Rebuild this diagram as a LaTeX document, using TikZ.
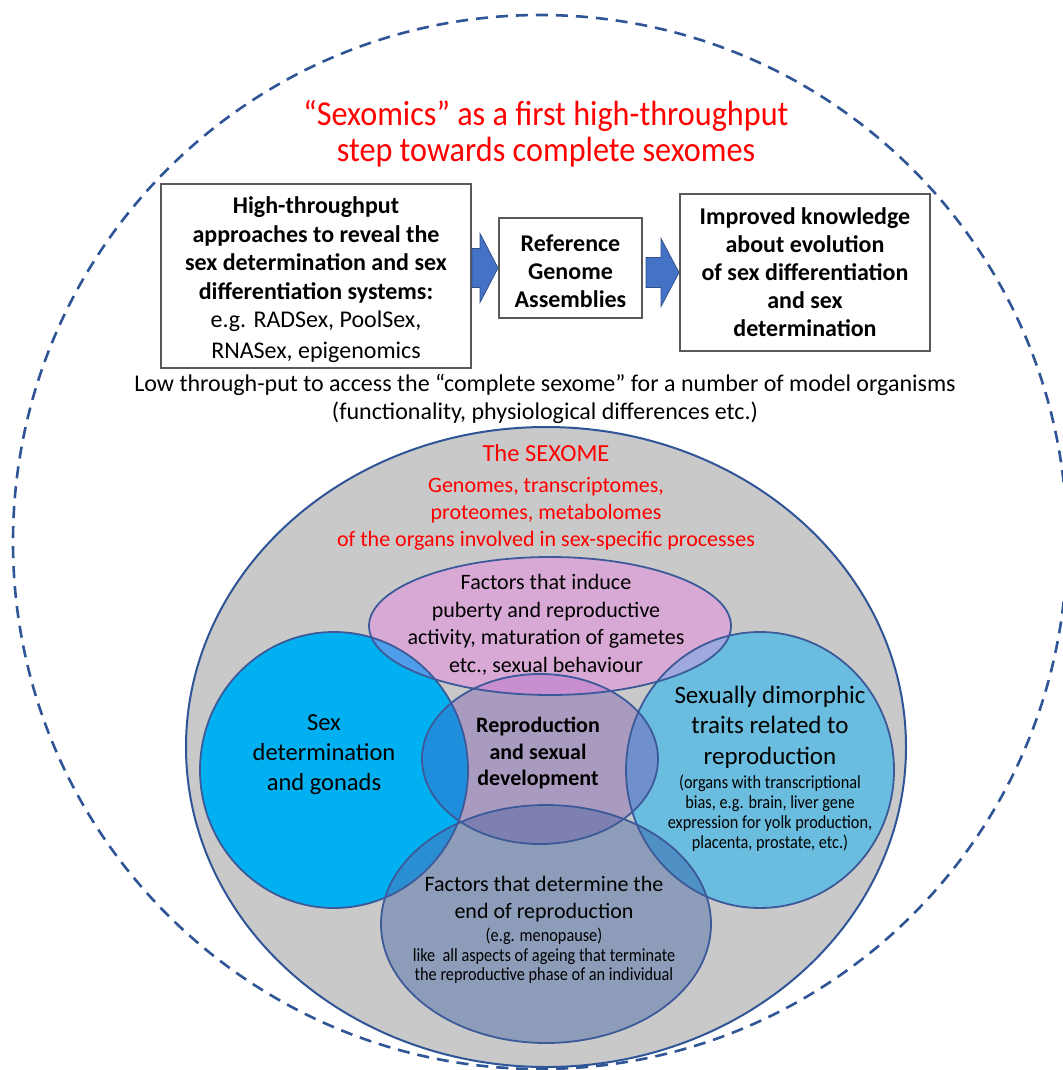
\documentclass[tikz,border=0pt]{standalone}
\usepackage{fontspec}
\setmainfont{Carlito}
\newfontfamily\condensed[FakeStretch=0.88]{Carlito}
\newfontfamily\titlefont[FakeStretch=0.92]{Carlito}
\usetikzlibrary{calc}
\definecolor{dashblue}{HTML}{2F5597}
\definecolor{vennblue}{HTML}{3C5A9A}
\definecolor{boxgray}{HTML}{595959}
\definecolor{arrowfill}{HTML}{4472C4}
\definecolor{arrowline}{HTML}{2F528F}
\definecolor{bggray}{HTML}{C9C9C9}
\definecolor{titlered}{HTML}{FF0000}
\definecolor{cL}{HTML}{00B0F0}
\definecolor{cR}{HTML}{6ABDDE}
\definecolor{cP}{HTML}{D9A9D6}
\definecolor{cC}{HTML}{A99BBF}
\definecolor{cB}{HTML}{8D9DB9}
\definecolor{cLP}{HTML}{4E9EEB}
\definecolor{cRP}{HTML}{9FA9E0}
\definecolor{cPC}{HTML}{C78ED0}
\definecolor{cLC}{HTML}{1F8FDD}
\definecolor{cRC}{HTML}{6F90CC}
\definecolor{cCB}{HTML}{7F80B2}
\definecolor{cLB}{HTML}{2A8ED2}
\definecolor{cRB}{HTML}{4F90C5}
\def\Lsh{(334,770) ellipse [x radius=134pt, y radius=138pt]}
\def\Rsh{(760,770) ellipse [x radius=134pt, y radius=138pt]}
\def\Psh{(550,626) ellipse [x radius=181pt, y radius=69pt]}
\def\Csh{(540,759) ellipse [x radius=118pt, y radius=85pt]}
\def\Bsh{(546,924) ellipse [x radius=165pt, y radius=119pt]}
\begin{document}
\begin{tikzpicture}[x=1pt,y=-1pt,
  box/.style={draw=boxgray, line width=2pt, fill=white, align=center, inner sep=0pt,
    font=\bfseries\fontsize{24}{28}\selectfont},
  plain/.style={align=center, inner sep=0pt, font=\fontsize{24}{28}\selectfont},
  redtxt/.style={align=center, inner sep=0pt, text=titlered},
  vline/.style={draw=vennblue, line width=1.8pt},
  barrow/.style n args={3}{to path={let \p1=(\tikztostart), \p2=(\tikztotarget) in
    (\x1,\y1+#1) -- (\x2-#3,\y1+#1) -- (\x2-#3,\y2+#2) -- (\x2,\y2) -- (\x2-#3,\y2-#2)
    -- (\x2-#3,\y1-#1) -- (\x1,\y1-#1) -- cycle}},
  blockarrow/.style={fill=arrowfill, draw=arrowline, line width=0.8pt, line join=miter}
]
\useasboundingbox (0,0) rectangle (1062,1070);
\fill[white] (0,0) rectangle (1062,1070);
% outer dashed circle
\draw[dashblue, line width=2.6pt, dash pattern=on 12pt off 8pt] (540,542) circle [radius=527pt];
% title
\node[redtxt, font=\titlefont\fontsize{35}{36}\selectfont] (title) at (546,134)
  {“Sexomics” as a first high-throughput\\step towards complete sexomes};
% boxes
\node[box, minimum width=310pt, minimum height=184pt] (b1) at (316,276) {};
\node[align=center, inner sep=0pt, font=\bfseries\fontsize{24}{28.5}\selectfont] (b1txt) at (316,280)
  {High-throughput\\approaches to reveal the\\sex determination and sex\\differentiation systems:\\{\mdseries e.g. RADSex, PoolSex,}\\[2.5pt]{\mdseries RNASex, epigenomics}};
\node[box, minimum width=143pt, minimum height=100pt] (b2) at (570.5,268) {};
\node[align=center, inner sep=0pt, font=\bfseries\fontsize{24}{28}\selectfont] (b2txt) at (570.5,271)
  {Reference\\Genome\\Assemblies};
\node[box, minimum width=250pt, minimum height=157pt] (b3) at (805,272.5)
  {Improved knowledge\\about evolution\\of sex differentiation\\and sex\\determination};
\draw[blockarrow] (b1.east |- b2.west) to[barrow={19.5pt}{34.5pt}{18pt}] (b2.west);
\draw[blockarrow] ($(b2.east |- b3.west)+(3,0)$) to[barrow={15pt}{34pt}{18pt}] (b3.west);
\node[plain, font=\fontsize{24}{28}\selectfont] (low) at (545,399)
  {Low through-put to access the “complete sexome” for a number of model organisms\\(functionality, physiological differences etc.)};
% big grey ellipse
\filldraw[fill=bggray, draw=dashblue, line width=2pt] (546,747) ellipse [x radius=360pt, y radius=320pt];
\node[redtxt, font=\fontsize{24.5}{28}\selectfont] (sexome) at (546,453) {The SEXOME};
\node[redtxt, font=\fontsize{22}{27}\selectfont] (omes) at (546,514)
  {Genomes, transcriptomes,\\proteomes, metabolomes\\of the organs involved in sex-specific processes};
% venn regions
\fill[cL] \Lsh; \fill[cR] \Rsh; \fill[cP] \Psh; \fill[cC] \Csh; \fill[cB] \Bsh;
\begin{scope}\clip \Lsh; \fill[cLP] \Psh; \fill[cLC] \Csh; \fill[cLB] \Bsh; \end{scope}
\begin{scope}\clip \Rsh; \fill[cRP] \Psh; \fill[cRC] \Csh; \fill[cRB] \Bsh; \end{scope}
\begin{scope}\clip \Csh; \fill[cPC] \Psh; \fill[cCB] \Bsh; \end{scope}
\draw[vline] \Lsh; \draw[vline] \Rsh; \draw[vline] \Psh; \draw[vline] \Csh; \draw[vline] \Bsh;
% venn texts
\node[plain, font=\fontsize{22}{27.5}\selectfont] (ptxt) at (546,625)
  {Factors that induce\\puberty and reproductive\\activity, maturation of gametes\\etc., sexual behaviour};
\node[plain, font=\fontsize{24.5}{30}\selectfont] (ltxt) at (324,755)
  {Sex\\determination\\and gonads};
\node[plain, font=\bfseries\fontsize{22}{26.5}\selectfont] (ctxt) at (538,753)
  {Reproduction\\and sexual\\development};
\node[plain, font=\fontsize{25}{30.5}\selectfont] (rtxt) at (770,727)
  {Sexually dimorphic\\traits related to\\reproduction};
\node[plain, font=\condensed\fontsize{18.5}{20}\selectfont] (rsmall) at (770,813)
  {(organs with transcriptional\\bias, e.g. brain, liver gene\\expression for yolk production,\\placenta, prostate, etc.)};
\node[plain, font=\fontsize{22}{27}\selectfont] (btxt) at (544,899)
  {Factors that determine the\\end of reproduction};
\node[plain, font=\condensed\fontsize{18.5}{19.5}\selectfont] (bsmall) at (544,956)
  {(e.g. menopause)\\like\ \ all aspects of ageing that terminate\\the reproductive phase of an individual};
\end{tikzpicture}
\end{document}
